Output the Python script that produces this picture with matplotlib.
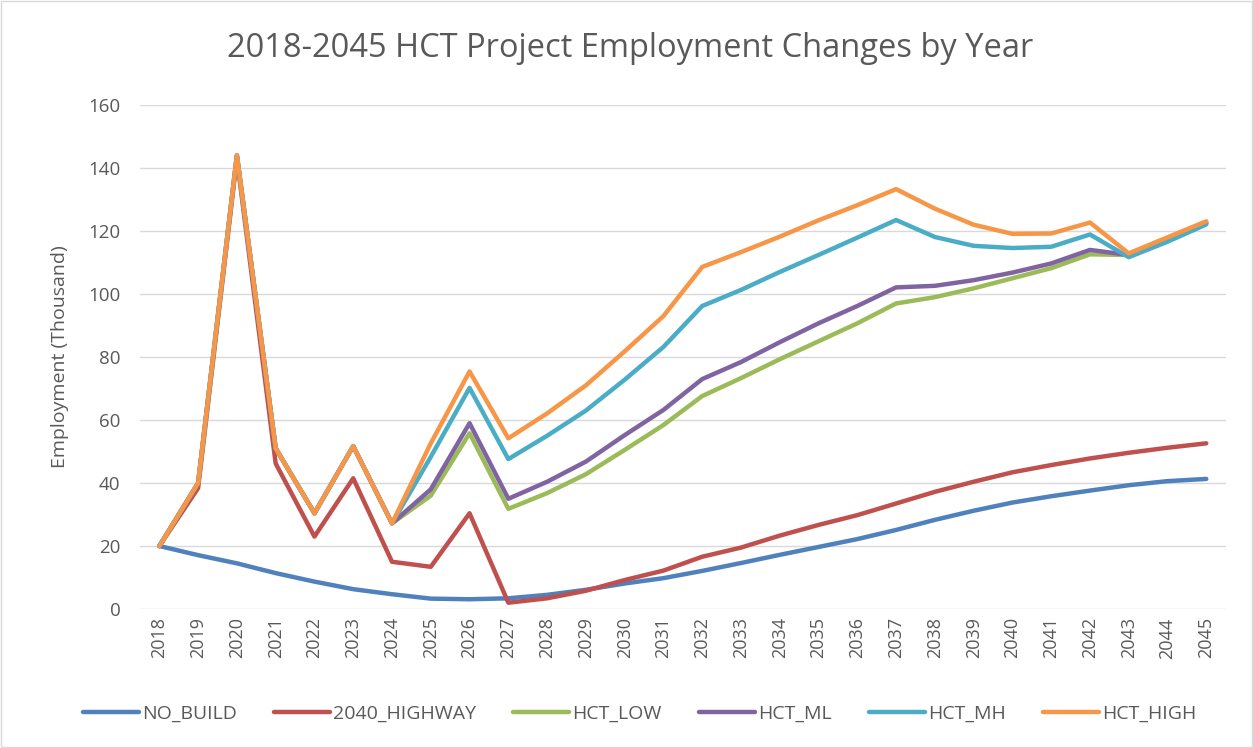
import matplotlib.pyplot as plt
from matplotlib.patches import Rectangle
import numpy as np

years = [str(y) for y in range(2018, 2046)]

no_build = [20, 17.1, 14.5, 11.4, 8.7, 6.3, 4.7, 3.3, 3.1, 3.4, 4.5, 6.1, 8.1, 9.8,
            12.1, 14.6, 17.2, 19.7, 22.2, 25.1, 28.3, 31.2, 33.8, 35.8, 37.6, 39.3, 40.6, 41.3]
highway = [20, 38.4, 143, 46.2, 23, 41.5, 15, 13.4, 30.4, 2.0, 3.4, 5.8, 9.2, 12.2,
           16.6, 19.5, 23.3, 26.7, 29.8, 33.5, 37.2, 40.4, 43.4, 45.7, 47.8, 49.6, 51.2, 52.6]
hct_low = [20, 40, 144, 51, 30.4, 51.7, 27.2, 36, 55.8, 31.8, 36.8, 42.8, 50.5, 58.4,
           67.6, 73.3, 79.3, 85, 90.7, 97, 99, 101.8, 105, 108.2, 112.6, 112.4, 117, 122.6]
hct_ml = [20, 40, 144, 51, 30.4, 51.7, 27.2, 38, 59, 35, 40.4, 46.8, 55.2, 63.2,
          73, 78.4, 84.7, 90.7, 96.2, 102.1, 102.6, 104.4, 106.8, 109.7, 114, 112.4, 117, 122.6]
hct_mh = [20, 40, 144, 51, 30.4, 51.7, 27.2, 48.3, 70.2, 47.6, 55, 63, 72.8, 83.2,
          96.2, 101.3, 107, 112.4, 117.9, 123.5, 118.1, 115.3, 114.6, 115, 118.9, 111.7, 116.6, 122.1]
hct_high = [20, 40, 144, 51, 30.4, 51.7, 27.2, 52.6, 75.4, 54.2, 62.1, 71, 81.8, 93,
            108.6, 113.3, 118.2, 123.4, 128.2, 133.3, 127.1, 122, 119.1, 119.2, 122.7, 112.9, 118, 123.1]

series = [("NO_BUILD", no_build, "#4F81BD"),
          ("2040_HIGHWAY", highway, "#C0504D"),
          ("HCT_LOW", hct_low, "#9BBB59"),
          ("HCT_ML", hct_ml, "#8064A2"),
          ("HCT_MH", hct_mh, "#4BACC6"),
          ("HCT_HIGH", hct_high, "#F79646")]

plt.rcParams['font.family'] = ['Open Sans', 'DejaVu Sans']
gray = '#595959'

fig = plt.figure(figsize=(12.53, 7.48), dpi=100)
ax = fig.add_axes([0.1117, 0.1858, 0.8665, 0.6738])

x = np.arange(len(years))
for name, vals, col in series:
    ax.plot(x, vals, color=col, lw=3.2, label=name, solid_capstyle='round', solid_joinstyle='round')

ax.set_xlim(-0.5, len(years) - 0.5)
ax.set_ylim(0, 160)
ax.set_yticks(range(0, 161, 20))
ax.set_xticks(x)
ax.set_xticklabels(years, rotation=90, fontsize=13, color=gray)
ax.tick_params(axis='y', labelsize=13.5, colors=gray, length=0, pad=14)
ax.tick_params(axis='x', length=0, pad=6)
ax.grid(axis='y', color='#d9d9d9', lw=1)
ax.set_axisbelow(True)
for s in ax.spines.values():
    s.set_visible(False)

ax.set_ylabel('Employment (Thousand)', fontsize=14, color=gray, labelpad=14)
fig.text(0.503, 0.935, '2018-2045 HCT Project Employment Changes by Year',
         ha='center', va='center', fontsize=23.5, color=gray)

ax.legend(loc='center', bbox_to_anchor=(0.46, -0.207), ncol=6, frameon=False,
          fontsize=14, labelcolor=gray, handlelength=2.9, handletextpad=0.15, columnspacing=1.9)

fig.patches.append(Rectangle((0.001, 0.001), 0.998, 0.998, transform=fig.transFigure,
                             fill=False, edgecolor='#d9d9d9', lw=1))

fig.savefig('out.png', dpi=100)
